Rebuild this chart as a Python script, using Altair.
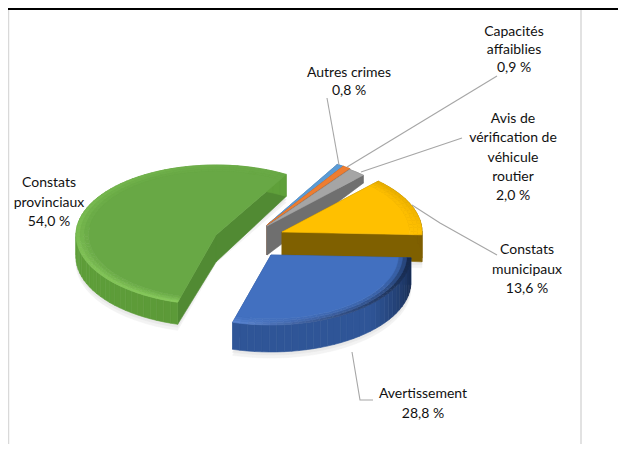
import math
import altair as alt
import pandas as pd

categories = ["Autres crimes", "Capacités affaiblies", "Avis de vérification de véhicule routier",
              "Constats municipaux", "Avertissement", "Constats provinciaux"]
values = [0.8, 0.9, 2.0, 13.6, 28.8, 54.0]
value_labels = ["0,8 %", "0,9 %", "2,0 %", "13,6 %", "28,8 %", "54,0 %"]
label_lines = [["Autres crimes"], ["Capacités", "affaiblies"],
               ["Avis de", "vérification de", "véhicule", "routier"],
               ["Constats", "municipaux"], ["Avertissement"], ["Constats", "provinciaux"]]

# style / layout of the 3D-looking exploded pie (page pixels)
START = 30.1
A, B = 140, 70
apex = [(267, 225), (267, 225), (267, 226), (282, 232), (271, 255), (216, 235)]
depth_apex = [30, 30, 29, 24, 24, 27]
depth_far = [8, 8, 8, 27, 27, 22]
top_col = ["#5b9bd5", "#ed7d31", "#a5a5a5", "#ffc000", "#4270c0", "#68a845"]
rim_a = ["#5b9bd5", "#ed7d31", "#a5a5a5", "#e8ae00", "#16294d", "#86c95a"]
rim_b = ["#5b9bd5", "#ed7d31", "#a5a5a5", "#ffc000", "#5b86d4", "#68a845"]
wall_col = ["#41719c", "#ae5a21", "#6f6f6f", "#7f6000", "#2f5597", "#518a33"]
band_a = ["#41719c", "#ae5a21", "#6f6f6f", "#a57c00", "#16294d", "#5c9a38"]
band_b = ["#41719c", "#ae5a21", "#6f6f6f", "#7f6000", "#2f5597", "#5fa03a"]
has_rim = [False, False, False, True, True, True]
has_shadow = [False, False, False, True, True, True]
draw_order = [0, 1, 2, 5, 3, 4]
label_x = [349, 514, 513, 527, 423, 49]
label_y = [73, 32, 119, 250, 394, 183]
line_gap = [18, 18, 19.3, 19.5, 20, 19.5]
leaders = [[(327, 98), (339, 165)], [(497, 76), (347, 167)], [(462, 138), (361, 172)],
           [(412, 205), (440, 223), (497, 255)], [(352, 352), (360, 400), (373, 400)]]

total = sum(values)
bounds = [START]
for v in values:
    bounds.append(bounds[-1] + v / total * 360)

def lerp_col(c1, c2, t):
    a = [int(c1[i:i + 2], 16) for i in (1, 3, 5)]
    b = [int(c2[i:i + 2], 16) for i in (1, 3, 5)]
    return "#%02x%02x%02x" % tuple(round(p + (q - p) * t) for p, q in zip(a, b))

def pt(i, th, r=1.0):
    ax, ay = apex[i]
    return ax + A * r * math.sin(math.radians(th)), ay - B * r * math.cos(math.radians(th))

rows = []
pid = [0]
def add(points, color):
    pid[0] += 1
    for k, (x, y) in enumerate(points):
        rows.append({"part": pid[0], "k": k, "x": x, "y": y, "c": color})

# faint shadow below the large slices
for i in draw_order:
    if has_shadow[i]:
        t0, t1 = bounds[i], bounds[i + 1]
        ths = [t0 + (t1 - t0) * j / 40 for j in range(41)]
        ax, ay = apex[i]
        for off, col in ((depth_far[i] + 6, "#f3f3f3"), (depth_far[i] + 3, "#e9e9e9")):
            add([(ax, ay + off)] + [(x, y + off) for x, y in (pt(i, th) for th in ths)], col)

for i in draw_order:
    t0, t1 = bounds[i], bounds[i + 1]
    n = max(2, int((t1 - t0) / 3))
    ths = [t0 + (t1 - t0) * j / n for j in range(n + 1)]
    ax, ay = apex[i]
    da, df = depth_apex[i], depth_far[i]
    for th in (t0, t1):
        x, y = pt(i, th)
        add([(ax, ay), (x, y), (x, y + df), (ax, ay + da)], wall_col[i])
    for j in range(n):
        x0, y0 = pt(i, ths[j])
        x1, y1 = pt(i, ths[j + 1])
        t = min(1.0, (j / n) * 2.5)
        add([(x0, y0), (x1, y1), (x1, y1 + df), (x0, y0 + df)], lerp_col(band_a[i], band_b[i], t))
    if has_rim[i]:
        rings = [(1.0, 0.97, 0.0), (0.97, 0.94, 0.4), (0.94, 0.91, 0.75)]
        for r0, r1, mix in rings:
            for j in range(n):
                t = ((j + 0.5) / n) ** 1.5 if i != 5 else (j + 0.5) / n
                col = lerp_col(lerp_col(rim_a[i], rim_b[i], t), top_col[i], mix)
                add([pt(i, ths[j], r0), pt(i, ths[j + 1], r0), pt(i, ths[j + 1], r1), pt(i, ths[j], r1)], col)
        add([(ax, ay)] + [pt(i, th, 0.91) for th in ths], top_col[i])
    else:
        add([(ax, ay)] + [pt(i, th) for th in ths], top_col[i])

df_parts = pd.DataFrame(rows)

X = alt.X("x:Q", scale=alt.Scale(domain=[8, 618], range=[0, 610], nice=False, zero=False), axis=None)
Y = alt.Y("y:Q", scale=alt.Scale(domain=[8, 444], range=[0, 436], nice=False, zero=False), axis=None)

pie = alt.Chart(df_parts).mark_line(interpolate="linear-closed", strokeWidth=0.6, filled=True).encode(
    x=X, y=Y, detail="part:N", order="k:Q",
    fill=alt.Fill("c:N", scale=None), stroke=alt.Stroke("c:N", scale=None))

lead_rows = []
for n, seg in enumerate(leaders):
    for k, (x, y) in enumerate(seg):
        lead_rows.append({"id": n, "k": k, "x": x, "y": y})
lead = alt.Chart(pd.DataFrame(lead_rows)).mark_line(color="#a6a6a6", strokeWidth=1.1).encode(
    x=X, y=Y, detail="id:N", order="k:Q")

frame_rows = [{"id": 0, "k": 0, "x": 8.5, "y": 8}, {"id": 0, "k": 1, "x": 8.5, "y": 444},
              {"id": 1, "k": 0, "x": 581, "y": 8}, {"id": 1, "k": 1, "x": 581, "y": 444}]
frame = alt.Chart(pd.DataFrame(frame_rows)).mark_line(color="#d9d9d9", strokeWidth=1.5).encode(
    x=X, y=Y, detail="id:N", order="k:Q")
top_rows = [{"k": 0, "x": 8, "y": 8.5}, {"k": 1, "x": 618, "y": 8.5}]
top_line = alt.Chart(pd.DataFrame(top_rows)).mark_line(color="#000000", strokeWidth=3).encode(
    x=X, y=Y, order="k:Q")

text_rows = []
for i in range(len(categories)):
    lines = label_lines[i] + [value_labels[i]]
    for j, s in enumerate(lines):
        text_rows.append({"x": label_x[i], "y": label_y[i] + j * line_gap[i], "s": s})
labels = alt.Chart(pd.DataFrame(text_rows)).mark_text(
    font="Lato", fontSize=14, color="#111111", align="center", baseline="middle").encode(
    x=X, y=Y, text="s:N")

chart = alt.layer(frame, top_line, pie, lead, labels).properties(
    width=610, height=436, padding=0, autosize=alt.AutoSizeParams(type="none"),
    background="white").configure_view(stroke=None)
chart.save("out.html", embed_options={"renderer": "svg", "actions": False})
